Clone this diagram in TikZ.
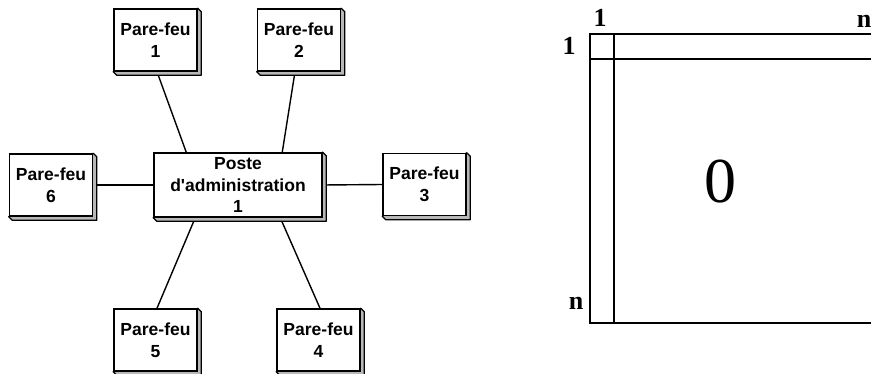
\documentclass[tikz,border=0pt]{standalone}
\usepackage{fontspec}
\setmainfont{Liberation Serif}
\setsansfont{Liberation Sans}
\usetikzlibrary{calc}
\tikzset{
  fwbox/.style={draw=black, fill=white, line width=1.5pt, minimum width=83pt, minimum height=62pt,
    inner sep=0pt, align=center, font=\sffamily\bfseries\fontsize{17.5}{21.5}\selectfont},
  link/.style={draw=black, line width=1.4pt},
  extr/.style={draw=black, fill=black!28, line width=1.3pt, line join=round},
  mline/.style={draw=black, line width=2pt},
  mlabel/.style={font=\bfseries\fontsize{26}{28}\selectfont, inner sep=0pt}
}
\newcommand{\extrude}[1]{%
  \path[extr] (#1.north east) -- ++(3.5pt,-3.5pt) -- ($(#1.south east)+(3.5pt,-3.5pt)$)
    -- ($(#1.south west)+(3.5pt,-3.5pt)$) -- (#1.south west) -- cycle;}
\newcommand{\apos}{\XeTeXglyph\XeTeXcharglyph"0027\relax}
\begin{document}
\begin{tikzpicture}[x=1pt,y=1pt]
\useasboundingbox (0,0) rectangle (871,373);
% nodes (positions only, drawn later)
\path
  (155.5,333) node[fwbox,draw=none,fill=none,text opacity=0] (p1) {Pare-feu\\1}
  (299,333)   node[fwbox,draw=none,fill=none,text opacity=0] (p2) {Pare-feu\\2}
  (424.5,188.5) node[fwbox,draw=none,fill=none,text opacity=0] (p3) {Pare-feu\\3}
  (51,188)    node[fwbox,draw=none,fill=none,text opacity=0] (p6) {Pare-feu\\6}
  (238,188)   node[fwbox,minimum width=168pt,minimum height=64pt,draw=none,fill=none,text opacity=0] (ps) {Poste\\d\apos administration\\1}
  (155.5,33)  node[fwbox,draw=none,fill=none,text opacity=0] (p5) {Pare-feu\\5}
  (318.5,33)  node[fwbox,draw=none,fill=none,text opacity=0] (p4) {Pare-feu\\4};
% connectors
\draw[link] ([xshift=1.5pt]p1.south) -- ([xshift=33pt]ps.north west);
\draw[link] ([xshift=-4pt]p2.south) -- ([xshift=129pt]ps.north west);
\draw[link] (ps.east) -- (p3.west);
\draw[link] (p6.east) -- (ps.west);
\draw[link] ([xshift=42pt]ps.south west) -- ([xshift=1.5pt]p5.north);
\draw[link] ([xshift=127pt]ps.south west) -- ([xshift=1.5pt]p4.north);
% boxes with extrusion
\foreach \n in {p1,p2,p3,p6,ps,p5,p4} {\extrude{\n}}
\node[fwbox] at (p1) {Pare-feu\\1};
\node[fwbox] at (p2) {Pare-feu\\2};
\node[fwbox] at (p3) {Pare-feu\\3};
\node[fwbox] at (p6) {Pare-feu\\6};
\node[fwbox,minimum width=168pt,minimum height=64pt] at (ps) {Poste\\d\apos administration\\1};
\node[fwbox] at (p5) {Pare-feu\\5};
\node[fwbox] at (p4) {Pare-feu\\4};
% matrix
\coordinate (mtl) at (589.5,338.5);
\coordinate (mbl) at (589.5,50.5);
\draw[mline] (872,338.5) -- (mtl) -- (mbl) -- (872,50.5);
\draw[mline] (613.7,338.5) -- (613.7,50.5);
\draw[mline] (589.5,313.7) -- (872,313.7);
\node[mlabel] (c1) at (600,355) {1};
\node[mlabel] (r1) at (569,327) {1};
\node[mlabel] (cn) at (864,352) {n};
\node[mlabel] (rn) at (576,70) {n};
\node[font=\fontsize{64}{64}\selectfont, inner sep=0pt] (z) at (720,191) {0};
\end{tikzpicture}
\end{document}
